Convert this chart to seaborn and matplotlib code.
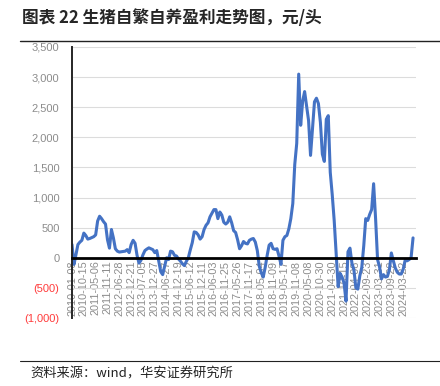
import numpy as np
import pandas as pd
import matplotlib
matplotlib.use("Agg")
import matplotlib.pyplot as plt
from matplotlib.lines import Line2D
import seaborn as sns

# ---- data (weekly-ish samples, 元/头) ----
profit = [
    220, -110, 50, 220, 260, 290, 410, 370, 310, 320,
    335, 350, 380, 610, 690, 650, 600, 560, 300, 160,
    470, 330, 150, 110, 95, 100, 105, 110, 135, 85,
    220, 290, 240, 40, -90, -40, 50, 120, 145, 165,
    150, 135, 85, 120, -60, -230, -280, -140, 0, -30,
    110, 100, 40, 30, -20, -55, -100, -130, -60, 0,
    130, 250, 430, 420, 380, 310, 350, 470, 540, 580,
    680, 740, 800, 800, 650, 760, 710, 590, 560, 590,
    680, 580, 450, 420, 300, 150, 200, 270, 240, 230,
    290, 310, 320, 260, 120, -140, -250, -320, -160, 40,
    210, 240, 150, 140, 150, 30, -110, 290, 350, 370,
    480, 650, 900, 1550, 1900, 3050, 2200, 2600, 2760, 2520,
    2280, 1700, 2150, 2590, 2650, 2560, 2250, 1720, 1600, 2300,
    2360, 1420, 1050, 620, 80, -480, -260, -320, -420, -720,
    100, 160, -90, -200, -500, -520, -300, -160, 200, 650,
    620, 720, 800, 1230, 650, -30, -150, -350, -280, -320,
    -310, -200, 80, -50, -170, -240, -270, -270, -190, -40,
    -50, -30, 0, 330,
]
tick_labels = [
    "2010-01-08", "2010-10-15", "2011-05-06", "2011-11-11", "2012-06-28",
    "2012-12-21", "2013-07-05", "2013-12-27", "2014-06-27", "2014-12-19",
    "2015-06-12", "2015-12-11", "2016-06-03", "2016-11-25", "2017-05-26",
    "2017-11-17", "2018-05-04", "2018-11-09", "2019-05-17", "2019-11-08",
    "2020-05-08", "2020-10-30", "2021-04-30", "2021-10-15", "2022-04-08",
    "2022-09-23", "2023-03-31", "2023-09-22", "2024-03-22",
]
y_ticks = [-1000, -500, 0, 500, 1000, 1500, 2000, 2500, 3000, 3500]
title = "图表 22 生猪自繁自养盈利走势图，元/头"
source = "资料来源：wind，华安证券研究所"

sns.set_theme(style="white")
plt.rcParams["font.family"] = ["Liberation Sans", "Noto Sans CJK SC", "DejaVu Sans"]

W, H = 440, 386
fig = plt.figure(figsize=(W / 100, H / 100), dpi=100)
ax = fig.add_axes([72 / W, 1 - 318 / H, (416 - 72) / W, (318 - 47) / H])

df = pd.DataFrame({"idx": np.arange(len(profit)), "profit": profit})
sns.lineplot(data=df, x="idx", y="profit", ax=ax, color="#4472C4", linewidth=2.2)

# spines first (set_position resets tick properties)
for s in ["top", "right"]:
    ax.spines[s].set_visible(False)
ax.spines["left"].set_color("#262626")
ax.spines["left"].set_linewidth(1.4)
ax.spines["bottom"].set_position(("data", 0))
ax.spines["bottom"].set_color("black")
ax.spines["bottom"].set_linewidth(2.0)

ax.set_xlim(0, 174.5)
ax.set_ylim(-1000, 3500)
ax.set_xlabel("")
ax.set_ylabel("")

ax.set_yticks(y_ticks)
ylabs = [f"{v:,}" if v >= 0 else f"({-v:,})" for v in y_ticks]
ax.set_yticklabels(ylabs, fontsize=8)
for lab, v in zip(ax.get_yticklabels(), y_ticks):
    lab.set_color("#ff3b3b" if v < 0 else "#8c8c8c")
ax.tick_params(axis="y", length=0, pad=9)

step = 6
ax.set_xticks([i * step for i in range(len(tick_labels))])
ax.set_xticklabels(tick_labels, rotation=90, fontsize=7.8, color="#8c8c8c")
ax.tick_params(axis="x", length=0, pad=2)

ax.yaxis.grid(True, color="#dcdcdc", linewidth=0.8)
ax.xaxis.grid(False)
ax.set_axisbelow(True)

# header / footer
fig.text(22 / W, 1 - 18 / H, title, fontsize=12, fontweight="bold",
         family=["Noto Sans CJK SC", "DejaVu Sans"], va="center", ha="left")
fig.add_artist(Line2D([20 / W, 1], [1 - 41 / H] * 2, color="#222222", linewidth=1.0))
fig.add_artist(Line2D([20 / W, 1], [1 - 361 / H] * 2, color="#222222", linewidth=0.8))
fig.text(30 / W, 1 - 374 / H, source, fontsize=9.5,
         family=["Noto Sans CJK SC", "DejaVu Sans"], va="center", ha="left", color="#222222")

fig.savefig("out.png", dpi=100)
